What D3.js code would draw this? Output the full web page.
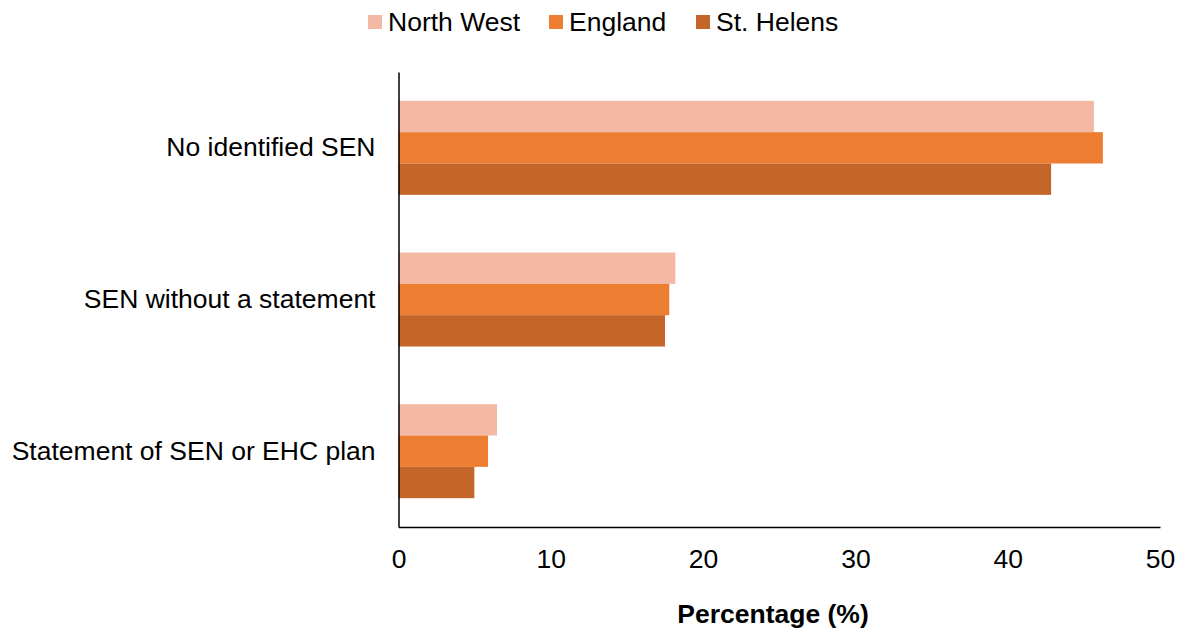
<!DOCTYPE html>
<html>
<head>
<meta charset="utf-8">
<script src="https://cdn.jsdelivr.net/npm/d3@7"></script>
<style>
  html, body { margin: 0; padding: 0; background: #fff; }
  svg { display: block; font-family: "Liberation Sans", Arial, sans-serif; }
</style>
</head>
<body>
<svg id="chart" width="1182" height="630"></svg>
<script>
// Pupil SEN status: percentage by area
const categories = ["No identified SEN", "SEN without a statement", "Statement of SEN or EHC plan"];
const seriesNames = ["North West", "England", "St. Helens"];
const northWest = [45.66, 18.18, 6.47];
const england = [46.25, 17.78, 5.88];
const stHelens = [42.85, 17.5, 4.98];
const xTicks = [0, 10, 20, 30, 40, 50];
const colors = ["#F4B9A5", "#ED7D31", "#C4652A"];

const seriesValues = [northWest, england, stHelens];
const FS = 26.5;

const svg = d3.select("#chart");
const margin = { left: 398.5, right: 22, top: 72, bottom: 103 };
const W = 1182, H = 630;

const x = d3.scaleLinear().domain([0, 50]).range([margin.left, W - margin.right]);
const y = d3.scaleBand().domain(categories).range([margin.top, H - margin.bottom]).paddingInner(0.38).paddingOuter(0.19);
const yInner = d3.scaleBand().domain(seriesNames).range([0, y.bandwidth()]);

// bars
categories.forEach((cat, ci) => {
  const g = svg.append("g").attr("transform", `translate(0,${y(cat)})`);
  seriesNames.forEach((s, si) => {
    g.append("rect")
      .attr("x", x(0))
      .attr("y", yInner(s))
      .attr("width", x(seriesValues[si][ci]) - x(0))
      .attr("height", yInner.bandwidth())
      .attr("fill", colors[si]);
  });
});

// x axis
const xAxis = d3.axisBottom(x).tickValues(xTicks).tickSize(0).tickPadding(22).tickFormat(d3.format("d"));
const gx = svg.append("g").attr("transform", `translate(0,${H - margin.bottom})`).call(xAxis);
gx.select(".domain").attr("stroke", "#000").attr("stroke-width", 1.5);
gx.selectAll("text").attr("font-size", FS).attr("fill", "#000").attr("font-family", "Liberation Sans, Arial, sans-serif");

// y axis
const yAxis = d3.axisLeft(y).tickSize(0).tickPadding(23);
const gy = svg.append("g").attr("transform", `translate(${margin.left},0)`).call(yAxis);
gy.select(".domain").attr("stroke", "#000").attr("stroke-width", 1.5);
gy.selectAll("text").attr("font-size", FS).attr("fill", "#000").attr("font-family", "Liberation Sans, Arial, sans-serif");

// axis title
svg.append("text")
  .attr("x", 773)
  .attr("y", 623)
  .attr("text-anchor", "middle")
  .attr("font-size", FS)
  .attr("font-weight", "bold")
  .text("Percentage (%)");

// legend
const legendX = [368, 549, 696];
seriesNames.forEach((s, i) => {
  const lg = svg.append("g").attr("transform", `translate(${legendX[i]},0)`);
  lg.append("rect").attr("x", 0).attr("y", 15).attr("width", 14).attr("height", 14).attr("fill", colors[i]);
  lg.append("text").attr("x", 20).attr("y", 31).attr("font-size", FS).attr("fill", "#000").text(s);
});
</script>
</body>
</html>
